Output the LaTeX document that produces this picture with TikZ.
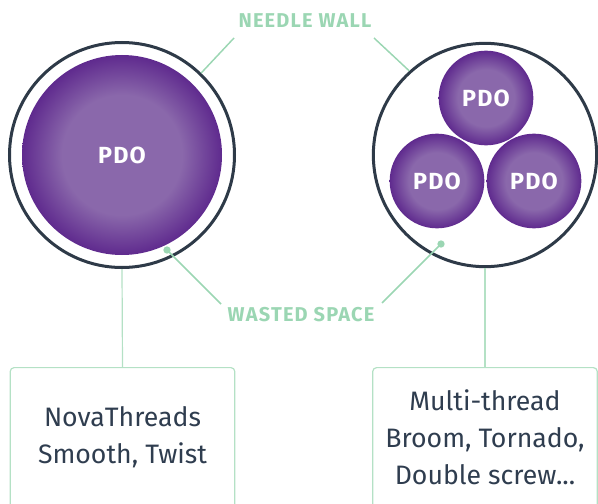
\documentclass[tikz,border=0pt]{standalone}
\usepackage{fontspec}
\setmainfont{Fira Sans}
\newfontfamily\tagfont{Fira Sans}[LetterSpace=6]
\newfontfamily\pdofont{Fira Sans}[LetterSpace=5]
\usetikzlibrary{shapes.geometric,arrows}
\definecolor{pdolight}{HTML}{8A68AB}
\definecolor{pdodark}{HTML}{5F2A8E}
\definecolor{wallgray}{HTML}{2E3A48}
\definecolor{mint}{HTML}{9BD6B3}
\definecolor{mintpale}{HTML}{B4E1C5}
\definecolor{inktext}{HTML}{2F3D4F}
\pgfdeclareradialshading{pdoball}{\pgfpoint{0bp}{0bp}}{color(0bp)=(pdolight); color(15bp)=(pdolight); color(25bp)=(pdodark); color(50bp)=(pdodark)}
\tikzstyle{wall} = [circle, draw=wallgray, line width=2.25pt, inner sep=0pt]
\tikzstyle{ball} = [circle, shade, shading=pdoball, inner sep=0pt, text=white, font=\pdofont\bfseries\fontsize{17.5}{20}\selectfont]
\tikzstyle{tag} = [text=mint, font=\tagfont\bfseries\fontsize{15}{18}\selectfont]
\tikzstyle{dot} = [circle, fill=mint, inner sep=0pt, minimum size=5.5pt]
\tikzstyle{pointer} = [draw=mint, line width=1.1pt]
\tikzstyle{stem} = [draw=mintpale, line width=0.9pt]
\tikzstyle{card} = [rectangle, rounded corners=3pt, draw=mintpale, line width=0.9pt, minimum width=168.5pt, minimum height=105pt, anchor=north, align=center, text=inktext, font=\fontsize{20}{27.75}\selectfont]

\begin{document}
\begin{tikzpicture}[x=0.75pt,y=-0.75pt]
\clip (0,0) rectangle (598,503);

% single thread
\node (leftwall) [wall, minimum size=168.75pt] at (122,155) {};
\node (bigpdo) [ball, minimum size=150pt] at (122,155) {PDO};

% three threads
\node (rightwall) [wall, minimum size=167.5pt] at (485,155) {};
\node (toppdo) [ball, minimum size=71pt] at (486,98) {PDO};
\node (leftpdo) [ball, minimum size=71pt] at (437,181) {PDO};
\node (rightpdo) [ball, minimum size=71pt] at (534,181) {PDO};

% labels
\node (needle) [tag] at (305,21) {NEEDLE WALL};
\node (wasted) [tag] at (301,315) {WASTED SPACE};
\coordinate (needlel) at (234,38);
\coordinate (needler) at (374,38);
\coordinate (wastedl) at (221,304);
\coordinate (wastedr) at (382,303);
\node (lgap) [dot] at (167,250) {};
\node (rgap) [dot] at (441,244) {};

% cards
\node (leftcard) [card] at (122.5,367) {NovaThreads\\Smooth, Twist};
\node (rightcard) [card] at (485,367) {Multi-thread\\Broom, Tornado,\\Double screw...};

\draw [pointer] (needlel) -- (leftwall.46);
\draw [pointer] (needler) -- (rightwall.132);
\draw [pointer] (lgap.center) -- (wastedl);
\draw [pointer] (rgap.center) -- (wastedr);
\draw [stem] (leftwall.south) -- (leftcard.north);
\draw [stem] (rightwall.south) -- (rightcard.north);
\end{tikzpicture}
\end{document}
